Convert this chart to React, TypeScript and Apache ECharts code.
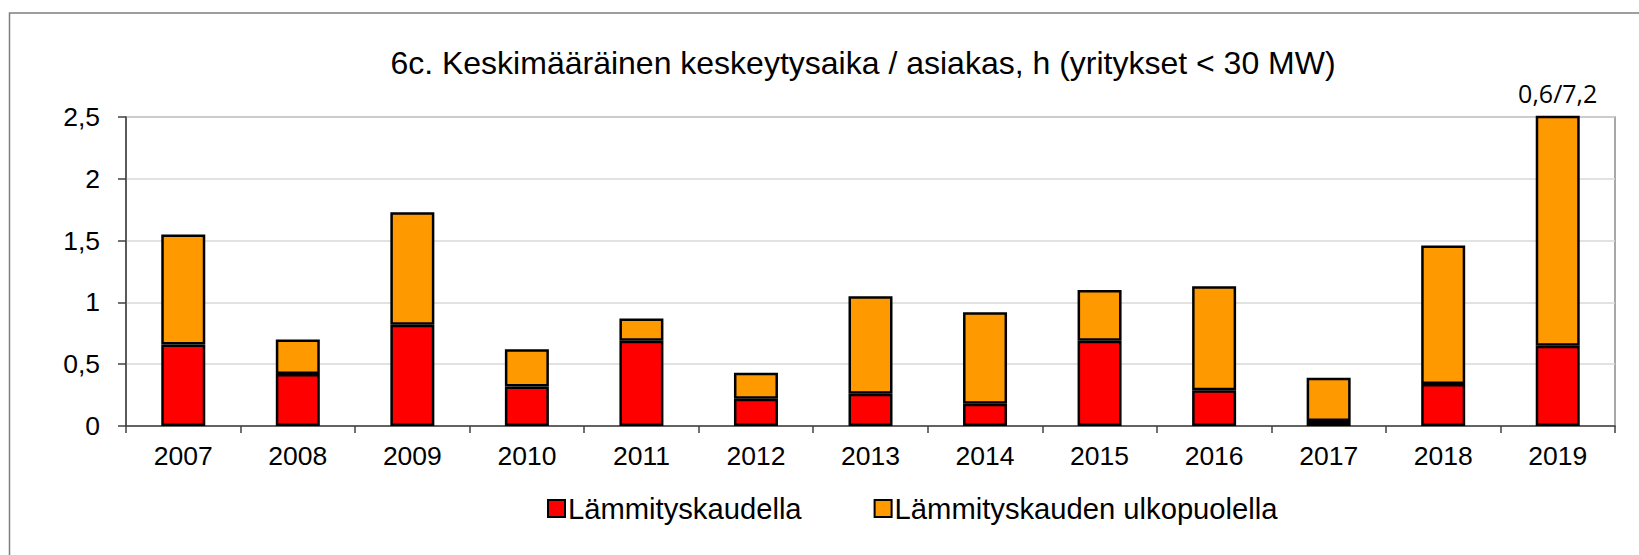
import React, { useEffect, useRef } from "react";
import * as echarts from "echarts";

const years = ["2007", "2008", "2009", "2010", "2011", "2012", "2013", "2014", "2015", "2016", "2017", "2018", "2019"];
const heatingSeason = [0.66, 0.42, 0.82, 0.32, 0.69, 0.22, 0.26, 0.18, 0.69, 0.29, 0.04, 0.34, 0.65];
const outsideHeating = [0.89, 0.28, 0.91, 0.3, 0.18, 0.21, 0.79, 0.74, 0.41, 0.84, 0.35, 1.12, 6.55];
const yTicks = { min: 0, max: 2.5, interval: 0.5 };
const overflowLabel = "0,6/7,2";
const titleText = "6c. Keskimääräinen keskeytysaika / asiakas, h (yritykset < 30 MW)";
const seriesNames = ["Lämmityskaudella", "Lämmityskauden ulkopuolella"];

export default function App() {
  const ref = useRef<HTMLDivElement>(null);
  useEffect(() => {
    if (!ref.current) return;
    const chart = echarts.init(ref.current, undefined, { renderer: "svg" });
    const font = "'Liberation Sans', Arial, sans-serif";
    const lastIdx = years.length - 1;
    chart.setOption({
      animation: false,
      backgroundColor: "#ffffff",
      title: {
        text: titleText,
        left: 858,
        top: 42,
        textAlign: "center",
        textStyle: { fontFamily: font, fontSize: 32, fontWeight: "normal", color: "#000" },
      },
      graphic: [
        {
          type: "rect",
          shape: { x: 9.5, y: 13, width: 1700, height: 700 },
          style: { fill: "none", stroke: "#7f7f7f", lineWidth: 1.5 },
          silent: true,
          z: -1,
        },
      ],
      legend: {
        left: 542,
        top: 489,
        itemWidth: 17,
        itemHeight: 17,
        itemGap: 72,
        icon: "rect",
        textStyle: { fontFamily: font, fontSize: 29.2, color: "#000", padding: [0, 0, 0, -2] },
        itemStyle: { borderColor: "#000", borderWidth: 2 },
        data: seriesNames,
      },
      grid: {
        left: 126,
        right: 24,
        top: 117,
        bottom: 129,
        show: true,
        borderColor: "#8c8c8c",
        borderWidth: 1.5,
      },
      xAxis: {
        type: "category",
        data: years,
        axisLine: { lineStyle: { color: "#404040", width: 1.5 } },
        axisTick: { show: true, alignWithLabel: false, length: 7, lineStyle: { color: "#404040", width: 1.5 } },
        axisLabel: { fontFamily: font, fontSize: 26.5, color: "#000", margin: 16 },
      },
      yAxis: {
        type: "value",
        min: yTicks.min,
        max: yTicks.max,
        interval: yTicks.interval,
        axisLine: { show: true, lineStyle: { color: "#404040", width: 1.5 } },
        axisTick: { show: true, length: 8, lineStyle: { color: "#404040", width: 1.5 } },
        axisLabel: {
          fontFamily: font,
          fontSize: 26.5,
          color: "#000",
          margin: 26,
          formatter: (v: number) => String(v).replace(".", ","),
        },
        splitLine: { lineStyle: { color: "#d9d9d9", width: 1.5 } },
      },
      series: [
        {
          name: seriesNames[0],
          type: "bar",
          stack: "total",
          barWidth: 44,
          data: heatingSeason,
          itemStyle: { color: "#ff0000", borderColor: "#000", borderWidth: 2.5 },
        },
        {
          name: seriesNames[1],
          type: "bar",
          stack: "total",
          barWidth: 44,
          clip: true,
          data: outsideHeating.map((v, i) =>
            i === lastIdx
              ? {
                  value: v,
                  label: {
                    show: true,
                    position: "top",
                    distance: 10,
                    formatter: overflowLabel,
                    fontFamily: "'Open Sans', sans-serif",
                    fontSize: 25,
                    color: "#000",
                  },
                }
              : v
          ),
          itemStyle: { color: "#ff9900", borderColor: "#000", borderWidth: 2.5 },
        },
      ],
    });
    return () => chart.dispose();
  }, []);
  return (
    <div
      ref={ref}
      style={{ position: "absolute", left: 0, top: 0, width: 1639, height: 555 }}
    />
  );
}
